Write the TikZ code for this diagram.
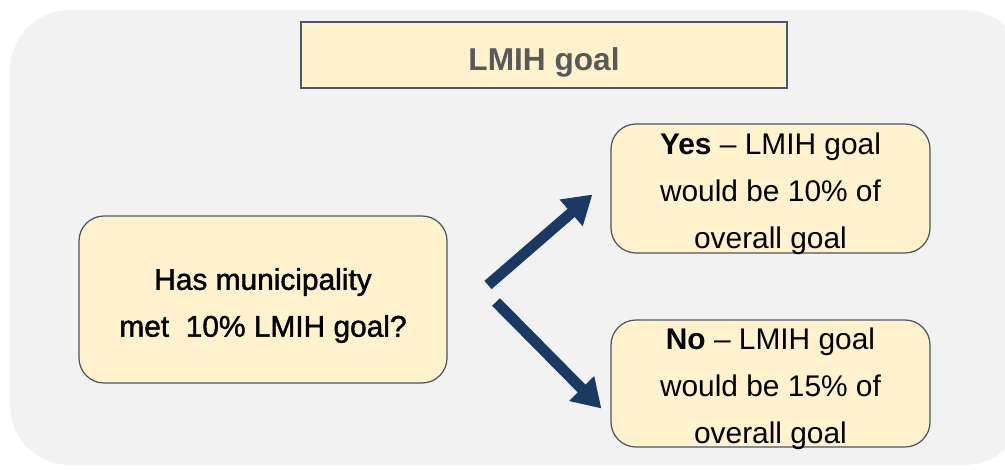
\documentclass[tikz,border=0pt]{standalone}
\usepackage{fontspec}
\setmainfont{Liberation Sans}
\newfontfamily\heavyfont[FakeBold=1.4]{Liberation Sans}
\usetikzlibrary{arrows.meta,positioning}
\definecolor{panelgray}{HTML}{F2F2F2}
\definecolor{boxfill}{HTML}{FFF2CC}
\definecolor{boxline}{HTML}{4A5566}
\definecolor{titlegray}{HTML}{595959}
\definecolor{navy}{HTML}{1B3A63}
% text block that may run over the box edge, as in the original
\newcommand{\boxtext}[2]{\raisebox{#1}[0pt][0pt]{\begin{tabular}{@{}c@{}}#2\end{tabular}}}
\tikzset{
  choice/.style={draw=boxline, line width=0.7pt, fill=boxfill, rounded corners=0.5cm,
    inner sep=0pt, minimum width=6.38cm,
    font=\fontsize{17}{26.7}\selectfont},
  fork/.style={navy, line width=6.2pt, -{Triangle[length=16pt,width=19pt]}}
}
\begin{document}
\begin{tikzpicture}
\useasboundingbox (0,0) rectangle (20.1,9.38);
% grey panel
\fill[panelgray, rounded corners=1.2cm] (0.2,0.08) rectangle (20.5,9.18);
% title
\node[draw=boxline, line width=0.8pt, fill=boxfill, minimum width=9.72cm, minimum height=1.32cm,
  text=titlegray, font=\fontsize{18}{22}\selectfont\bfseries] (title) at (10.88,8.28)
  {\rule{0pt}{22pt}LMIH goal};
% question and outcomes
\node[choice, minimum width=7.36cm, minimum height=3.34cm, font=\fontsize{17}{26.7}\heavyfont]
  (question) at (5.26,3.39) {\boxtext{-6.8pt}{Has municipality\\met~ 10\% LMIH goal?}};
\node[choice, minimum height=2.58cm] (yes) at (15.41,5.61)
  {\boxtext{-6.5pt}{\textbf{Yes} -- LMIH goal\\would be 10\% of\\overall goal}};
\node[choice, minimum height=2.54cm] (no) at (15.41,1.71)
  {\boxtext{-6.5pt}{\textbf{No} -- LMIH goal\\would be 15\% of\\overall goal}};
% arrows
\coordinate (upstart) at (9.76,3.68);
\coordinate (downstart) at (9.92,3.34);
\draw[fork] (upstart) -- ([shift={(-0.36,-0.12)}]yes.west);
\draw[fork] (downstart) -- ([shift={(-0.18,-0.5)}]no.west);
\end{tikzpicture}
\end{document}
